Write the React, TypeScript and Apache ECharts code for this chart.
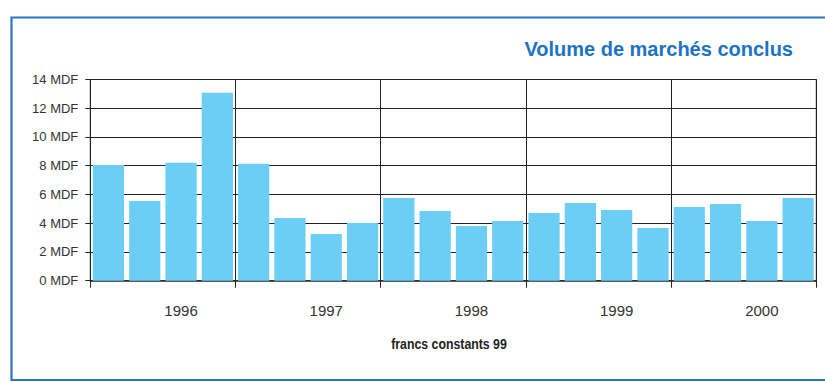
import React, { useEffect, useRef } from "react";
import * as echarts from "echarts";

const years = ["1996", "1997", "1998", "1999", "2000"];
const quarters = ["T1", "T2", "T3", "T4"];
const values = [
  8.05, 5.55, 8.2, 13.07,
  8.13, 4.37, 3.25, 4.02,
  5.76, 4.85, 3.81, 4.16,
  4.71, 5.41, 4.92, 3.67,
  5.13, 5.34, 4.16, 5.76,
];
const yTicks = { min: 0, max: 14, interval: 2 };
const titleText = "Volume de marchés conclus";
const unitText = "francs constants 99";

const categories: string[] = [];
years.forEach((y) => quarters.forEach((q) => categories.push(y + " " + q)));

const FONT = "'Liberation Sans', Arial, sans-serif";

export default function App() {
  const ref = useRef<HTMLDivElement>(null);
  useEffect(() => {
    if (!ref.current) return;
    const chart = echarts.init(ref.current, undefined, { renderer: "svg" });
    chart.setOption({
      animation: false,
      backgroundColor: "#ffffff",
      grid: {
        left: 90.3,
        right: 8.7,
        top: 79.5,
        bottom: 101.3,
        containLabel: false,
        show: true,
        borderColor: "#222",
        borderWidth: 1,
      },
      xAxis: {
        type: "category",
        data: categories,
        boundaryGap: true,
        axisLine: { show: true, lineStyle: { color: "#333", width: 1.5 } },
        axisTick: {
          show: true,
          length: 7,
          interval: (i: number) => i % 4 === 0,
          lineStyle: { color: "#222" },
        },
        splitLine: {
          show: true,
          interval: (i: number) => i % 4 === 0,
          lineStyle: { color: "#222", width: 1 },
        },
        axisLabel: {
          interval: (i: number) => i % 4 === 2,
          formatter: (v: string) => v.split(" ")[0],
          fontSize: 15,
          color: "#333",
          fontFamily: FONT,
          margin: 22,
        },
      },
      yAxis: {
        type: "value",
        min: yTicks.min,
        max: yTicks.max,
        interval: yTicks.interval,
        axisLine: { show: true, lineStyle: { color: "#222" } },
        axisTick: { show: true, length: 5, lineStyle: { color: "#222" } },
        splitLine: { show: true, lineStyle: { color: "#222", width: 1 } },
        axisLabel: {
          formatter: "{value} MDF",
          fontSize: 13,
          color: "#333",
          fontFamily: FONT,
          margin: 12,
        },
      },
      series: [
        {
          type: "bar",
          data: values,
          barCategoryGap: "14%",
          itemStyle: { color: "#6dcef5" },
          z: 3,
        },
      ],
      graphic: [
        {
          type: "rect",
          shape: { x: 11.5, y: 17.5, width: 830, height: 362.5 },
          style: { fill: "none", stroke: "#2b74c4", lineWidth: 2.2 },
          silent: true,
        },
        {
          type: "text",
          x: 793,
          y: 49,
          style: {
            text: titleText,
            fill: "#1d73c3",
            font: "bold 20px " + FONT,
            textAlign: "right",
            textVerticalAlign: "middle",
          },
        },
        {
          type: "text",
          x: 449,
          y: 344.5,
          scaleX: 0.88,
          style: {
            text: unitText,
            fill: "#222",
            font: "bold 14px " + FONT,
            textAlign: "center",
            textVerticalAlign: "middle",
          },
        },
      ],
    });
    return () => chart.dispose();
  }, []);
  return (
    <div
      ref={ref}
      style={{ position: "fixed", left: 0, top: 0, width: 825, height: 382 }}
    />
  );
}
